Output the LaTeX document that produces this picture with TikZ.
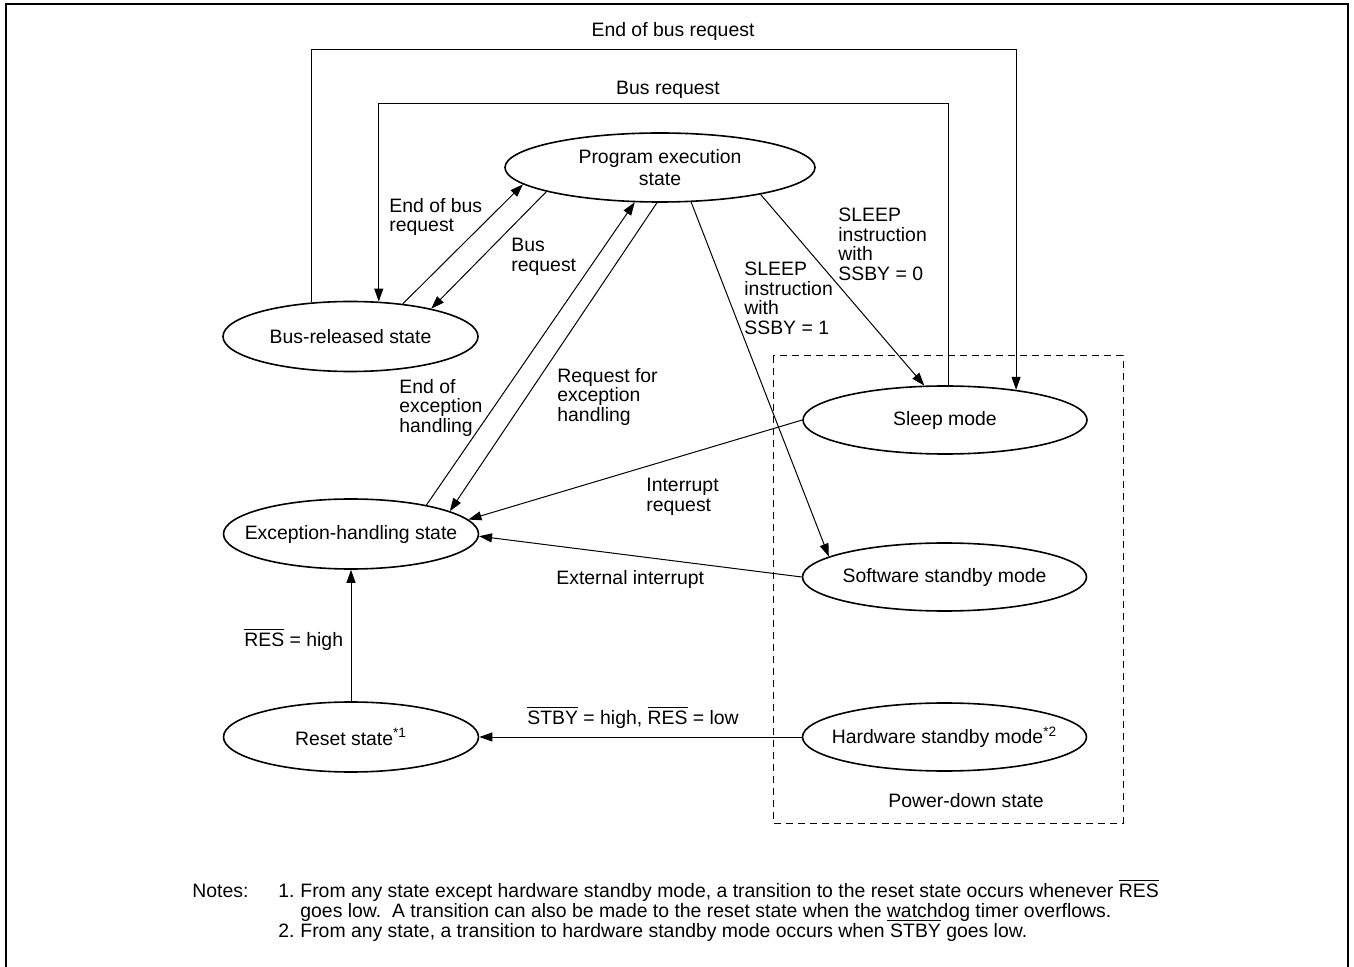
\documentclass[tikz,border=0pt]{standalone}
\usepackage{fontspec}
\setmainfont{Liberation Sans}
\usetikzlibrary{arrows.meta,shapes.geometric}
\newcommand{\ovl}[1]{$\overline{\mbox{#1}}$}
\tikzset{
  state/.style={draw, ellipse, line width=0.8pt, inner sep=0pt, minimum width=127.5pt, minimum height=35pt},
  widestate/.style={state, minimum width=155pt, minimum height=34.5pt},
  modestate/.style={state, minimum width=142pt, minimum height=34pt},
  trans/.style={-{Triangle[length=6.5pt, width=4.5pt]}, line width=0.5pt},
  lbl/.style={align=left, anchor=north west, inner sep=0pt},
  txt/.style={inner sep=0pt}
}

\begin{document}
\begin{tikzpicture}[x=0.5pt, y=-0.5pt, every node/.style={font=\fontsize{9.7}{9.7}\selectfont}]
  \useasboundingbox (0,0) rectangle (1354,967);
  % frame and power-down area
  \draw[line width=1pt] (6,967) -- (6,4.5) -- (1347.5,4.5) -- (1347.5,967);
  \draw[line width=0.5pt, dash pattern=on 3.5pt off 2.5pt] (773,356) rectangle (1123,823);
  \node[txt, anchor=base west] (pd) at (888,807) {Power-down state};

  % states
  \node[widestate, label={[txt, align=center, font=\fontsize{9.7}{11}\selectfont]center:Program execution\\state}] (prog) at (660,167.5) {};
  \node[state, label={[txt]center:Bus-released state}] (bus) at (350.5,336.5) {};
  \node[state, label={[txt]center:Exception-handling state}] (exc) at (351,534) {};
  \node[state, label={[txt]center:Reset state\textsuperscript{*1}}] (reset) at (351,737) {};
  \node[modestate, label={[txt]center:Sleep mode}] (sleep) at (945,420) {};
  \node[modestate, label={[txt]center:Software standby mode}] (soft) at (944.5,577) {};
  \node[modestate, label={[txt]center:Hardware standby mode\textsuperscript{*2}}] (hard) at (944.5,737) {};

  % bus lines over the top
  \coordinate (eobtop) at (0,50);
  \coordinate (brtop) at (0,104);
  \draw[trans] (bus.139) -- (bus.139 |- eobtop) -| (sleep.23.5);
  \draw[trans] (sleep.85) -- (sleep.85 |- brtop) -| (bus.51);
  \node[txt, anchor=base] (eobt) at (673,37) {End of bus request};
  \node[txt, anchor=base] (brt) at (668,95) {Bus request};

  % transitions
  \draw[trans] (bus.32.5) -- (prog.187);
  \draw[trans] (prog.192) -- (bus.19);
  \draw[trans] (exc.21) -- (prog.234);
  \draw[trans] (prog.265) -- (exc.13);
  \draw[trans] (prog.-15.6) -- (sleep.121.5);
  \draw[trans] (prog.-48) -- (soft.170);
  \draw[trans] (sleep.west) -- (exc.7);
  \draw[trans] (soft.west) -- (exc.-1);
  \draw[trans] (reset.north) -- (exc.south);
  \draw[trans] (hard.west) -- (reset.east);

  % transition labels
  \node[lbl] (l1) at (389,198) {End of bus\\request};
  \node[lbl] (l2) at (511,238) {Bus\\request};
  \node[lbl] (l3) at (399,379) {End of\\exception\\handling};
  \node[lbl] (l4) at (557,368) {Request for\\exception\\handling};
  \node[lbl] (l5) at (838,208) {SLEEP\\instruction\\with\\SSBY = 0};
  \node[lbl] (l6) at (744,262) {SLEEP\\instruction\\with\\SSBY = 1};
  \node[lbl] (l7) at (646,478) {Interrupt\\request};
  \node[lbl] (l8) at (556,570) {External interrupt};
  \node[txt, anchor=base west] (l9) at (244,646) {\ovl{RES} = high};
  \node[txt, anchor=base west] (l10) at (527,724) {\ovl{STBY} = high, \ovl{RES} = low};

  % notes
  \node[txt, anchor=base west] (notes) at (192,897) {Notes:};
  \node[txt, anchor=base west] (n1) at (278,897) {1.};
  \node[txt, anchor=base west] (n1a) at (300,897) {From any state except hardware standby mode, a transition to the reset state occurs whenever \ovl{RES}};
  \node[txt, anchor=base west] (n1b) at (300,917) {goes low.\ \ A transition can also be made to the reset state when the \underline{watch}dog timer overflows.};
  \node[txt, anchor=base west] (n2) at (278,937) {2.};
  \node[txt, anchor=base west] (n2a) at (300,937) {From any state, a transition to hardware standby mode occurs when \ovl{STBY} goes low.};
\end{tikzpicture}
\end{document}
